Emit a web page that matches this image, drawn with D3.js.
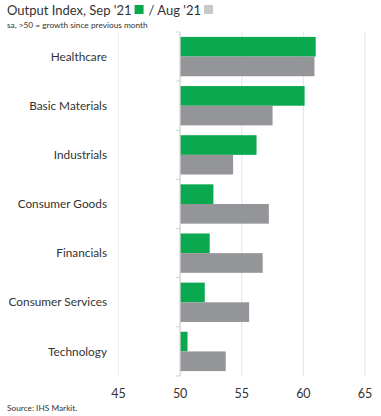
<!DOCTYPE html>
<html>
<head>
<meta charset="utf-8">
<script src="https://cdn.jsdelivr.net/npm/d3@7"></script>
<style>
  body { margin: 0; background: #fff; }
  text { font-family: "Source Sans Pro", Lato, "Open Sans", sans-serif; fill: #333; }
</style>
</head>
<body>
<svg width="381" height="416"></svg>
<script>
var sectors = ["Healthcare", "Basic Materials", "Industrials", "Consumer Goods", "Financials", "Consumer Services", "Technology"];
var sep21 = [61.0, 60.1, 56.2, 52.7, 52.4, 52.0, 50.6];
var aug21 = [60.9, 57.5, 54.3, 57.2, 56.7, 55.6, 53.7];
var xTicks = [45, 50, 55, 60, 65];

var green = "#0aa84f", grey = "#939598";

var svg = d3.select("svg");

var x = d3.scaleLinear().domain([45, 65]).range([118.5, 365]);
var y = d3.scaleBand().domain(sectors).range([32, 376]).paddingInner(0.2).paddingOuter(0.1);
var band = d3.scaleBand().domain(["sep", "aug"]).range([0, y.bandwidth()]);

// title with legend squares
var t1 = svg.append("text").attr("x", 7).attr("y", 15).style("font-size", "13px").text("Output Index, Sep '21");
var w1 = t1.node().getComputedTextLength();
svg.append("rect").attr("x", 7 + w1 + 3).attr("y", 5).attr("width", 9).attr("height", 9).attr("fill", green);
var t2 = svg.append("text").attr("x", 7 + w1 + 17).attr("y", 15).style("font-size", "13px").text("/ Aug '21");
var w2 = t2.node().getComputedTextLength();
svg.append("rect").attr("x", 7 + w1 + 17 + w2 + 3).attr("y", 5).attr("width", 9).attr("height", 9).attr("fill", "#c8c8c8");
svg.append("text").attr("x", 7).attr("y", 28).style("font-size", "8.3px").text("sa, >50 = growth since previous month");

// gridlines
svg.append("g").selectAll("line").data(xTicks).enter().append("line")
  .attr("x1", function(d) { return x(d); }).attr("x2", function(d) { return x(d); })
  .attr("y1", 32).attr("y2", 376)
  .attr("stroke", function(d) { return d === 45 ? "#f2f2f2" : "#e4e4e4"; })
  .attr("stroke-width", 1);

// x axis labels
svg.append("g").selectAll("text").data(xTicks).enter().append("text")
  .attr("x", function(d) { return x(d); })
  .attr("y", 398)
  .attr("text-anchor", "middle")
  .style("font-size", "12.5px")
  .text(function(d) { return d; });

// bars
var rows = sectors.map(function(s, i) { return { name: s, sep: sep21[i], aug: aug21[i] }; });
var g = svg.append("g").selectAll("g").data(rows).enter().append("g")
  .attr("transform", function(d) { return "translate(0," + y(d.name) + ")"; });

g.append("rect")
  .attr("x", x(50)).attr("y", band("sep"))
  .attr("width", function(d) { return x(d.sep) - x(50); })
  .attr("height", band.bandwidth())
  .attr("fill", green);
g.append("rect")
  .attr("x", x(50)).attr("y", band("aug"))
  .attr("width", function(d) { return x(d.aug) - x(50); })
  .attr("height", band.bandwidth())
  .attr("fill", grey);

// category axis at 50
var yAxis = svg.append("g").attr("transform", "translate(" + x(50) + ",0)");
yAxis.append("line").attr("x1", 0).attr("x2", 0).attr("y1", 32).attr("y2", 376).attr("stroke", "#d0d0d0");
var bounds = sectors.map(function(s) { return y(s) - y.step() * y.paddingInner() / 2; }).concat([376]);
yAxis.selectAll("line.tk").data(bounds).enter().append("line").attr("class", "tk")
  .attr("x1", -4).attr("x2", 0)
  .attr("y1", function(d) { return d; }).attr("y2", function(d) { return d; })
  .attr("stroke", "#d0d0d0");

svg.append("g").selectAll("text").data(sectors).enter().append("text")
  .attr("x", 107)
  .attr("y", function(d) { return y(d) + y.bandwidth() / 2; })
  .attr("dy", "0.35em")
  .attr("text-anchor", "end")
  .style("font-size", "11.8px")
  .text(function(d) { return d; });

svg.append("text").attr("x", 7).attr("y", 411).style("font-size", "8.3px").text("Source: IHS Markit.");
</script>
</body>
</html>
